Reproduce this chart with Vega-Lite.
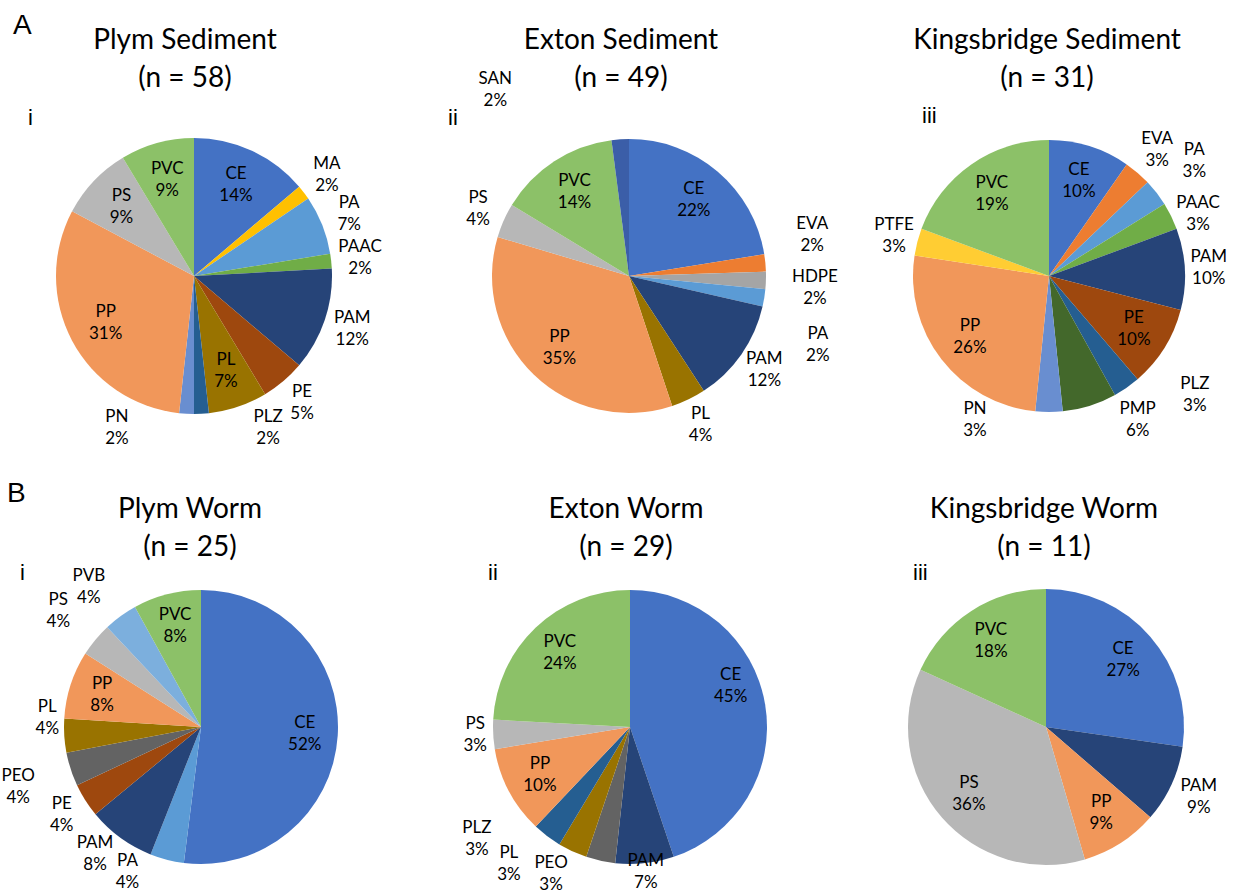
{
  "$schema": "https://vega.github.io/schema/vega-lite/v6.json",
  "background": "white",
  "padding": {"left": 0, "top": 12, "right": 0, "bottom": 0},
  "spacing": -6,
  "config": {
    "view": {"stroke": null},
    "text": {"font": "Lato", "fontSize": 17, "lineHeight": 22, "lineBreak": "\n", "color": "#000000", "baseline": "middle", "align": "center", "dy": -11},
    "arc": {"stroke": null},
    "title": {"font": "Lato", "fontWeight": "normal", "color": "#000000", "fontSize": 28, "lineHeight": 38, "baseline": "alphabetic", "offset": 0}
  },
  "data": {
    "values": [
      {"panel": "Plym Sediment", "polymer": "CE", "count": 8, "label": "CE\n14%"},
      {"panel": "Plym Sediment", "polymer": "MA", "count": 1, "label": "MA\n2%"},
      {"panel": "Plym Sediment", "polymer": "PA", "count": 4, "label": "PA\n7%"},
      {"panel": "Plym Sediment", "polymer": "PAAC", "count": 1, "label": "PAAC\n2%"},
      {"panel": "Plym Sediment", "polymer": "PAM", "count": 7, "label": "PAM\n12%"},
      {"panel": "Plym Sediment", "polymer": "PE", "count": 3, "label": "PE\n5%"},
      {"panel": "Plym Sediment", "polymer": "PL", "count": 4, "label": "PL\n7%"},
      {"panel": "Plym Sediment", "polymer": "PLZ", "count": 1, "label": "PLZ\n2%"},
      {"panel": "Plym Sediment", "polymer": "PN", "count": 1, "label": "PN\n2%"},
      {"panel": "Plym Sediment", "polymer": "PP", "count": 18, "label": "PP\n31%"},
      {"panel": "Plym Sediment", "polymer": "PS", "count": 5, "label": "PS\n9%"},
      {"panel": "Plym Sediment", "polymer": "PVC", "count": 5, "label": "PVC\n9%"},
      {"panel": "Exton Sediment", "polymer": "CE", "count": 11, "label": "CE\n22%"},
      {"panel": "Exton Sediment", "polymer": "EVA", "count": 1, "label": "EVA\n2%"},
      {"panel": "Exton Sediment", "polymer": "HDPE", "count": 1, "label": "HDPE\n2%"},
      {"panel": "Exton Sediment", "polymer": "PA", "count": 1, "label": "PA\n2%"},
      {"panel": "Exton Sediment", "polymer": "PAM", "count": 6, "label": "PAM\n12%"},
      {"panel": "Exton Sediment", "polymer": "PL", "count": 2, "label": "PL\n4%"},
      {"panel": "Exton Sediment", "polymer": "PP", "count": 17, "label": "PP\n35%"},
      {"panel": "Exton Sediment", "polymer": "PS", "count": 2, "label": "PS\n4%"},
      {"panel": "Exton Sediment", "polymer": "PVC", "count": 7, "label": "PVC\n14%"},
      {"panel": "Exton Sediment", "polymer": "SAN", "count": 1, "label": "SAN\n2%"},
      {"panel": "Kingsbridge Sediment", "polymer": "CE", "count": 3, "label": "CE\n10%"},
      {"panel": "Kingsbridge Sediment", "polymer": "EVA", "count": 1, "label": "EVA\n3%"},
      {"panel": "Kingsbridge Sediment", "polymer": "PA", "count": 1, "label": "PA\n3%"},
      {"panel": "Kingsbridge Sediment", "polymer": "PAAC", "count": 1, "label": "PAAC\n3%"},
      {"panel": "Kingsbridge Sediment", "polymer": "PAM", "count": 3, "label": "PAM\n10%"},
      {"panel": "Kingsbridge Sediment", "polymer": "PE", "count": 3, "label": "PE\n10%"},
      {"panel": "Kingsbridge Sediment", "polymer": "PLZ", "count": 1, "label": "PLZ\n3%"},
      {"panel": "Kingsbridge Sediment", "polymer": "PMP", "count": 2, "label": "PMP\n6%"},
      {"panel": "Kingsbridge Sediment", "polymer": "PN", "count": 1, "label": "PN\n3%"},
      {"panel": "Kingsbridge Sediment", "polymer": "PP", "count": 8, "label": "PP\n26%"},
      {"panel": "Kingsbridge Sediment", "polymer": "PTFE", "count": 1, "label": "PTFE\n3%"},
      {"panel": "Kingsbridge Sediment", "polymer": "PVC", "count": 6, "label": "PVC\n19%"},
      {"panel": "Plym Worm", "polymer": "CE", "count": 13, "label": "CE\n52%"},
      {"panel": "Plym Worm", "polymer": "PA", "count": 1, "label": "PA\n4%"},
      {"panel": "Plym Worm", "polymer": "PAM", "count": 2, "label": "PAM\n8%"},
      {"panel": "Plym Worm", "polymer": "PE", "count": 1, "label": "PE\n4%"},
      {"panel": "Plym Worm", "polymer": "PEO", "count": 1, "label": "PEO\n4%"},
      {"panel": "Plym Worm", "polymer": "PL", "count": 1, "label": "PL\n4%"},
      {"panel": "Plym Worm", "polymer": "PP", "count": 2, "label": "PP\n8%"},
      {"panel": "Plym Worm", "polymer": "PS", "count": 1, "label": "PS\n4%"},
      {"panel": "Plym Worm", "polymer": "PVB", "count": 1, "label": "PVB\n4%"},
      {"panel": "Plym Worm", "polymer": "PVC", "count": 2, "label": "PVC\n8%"},
      {"panel": "Exton Worm", "polymer": "CE", "count": 13, "label": "CE\n45%"},
      {"panel": "Exton Worm", "polymer": "PAM", "count": 2, "label": "PAM\n7%"},
      {"panel": "Exton Worm", "polymer": "PEO", "count": 1, "label": "PEO\n3%"},
      {"panel": "Exton Worm", "polymer": "PL", "count": 1, "label": "PL\n3%"},
      {"panel": "Exton Worm", "polymer": "PLZ", "count": 1, "label": "PLZ\n3%"},
      {"panel": "Exton Worm", "polymer": "PP", "count": 3, "label": "PP\n10%"},
      {"panel": "Exton Worm", "polymer": "PS", "count": 1, "label": "PS\n3%"},
      {"panel": "Exton Worm", "polymer": "PVC", "count": 7, "label": "PVC\n24%"},
      {"panel": "Kingsbridge Worm", "polymer": "CE", "count": 3, "label": "CE\n27%"},
      {"panel": "Kingsbridge Worm", "polymer": "PAM", "count": 1, "label": "PAM\n9%"},
      {"panel": "Kingsbridge Worm", "polymer": "PP", "count": 1, "label": "PP\n9%"},
      {"panel": "Kingsbridge Worm", "polymer": "PS", "count": 4, "label": "PS\n36%"},
      {"panel": "Kingsbridge Worm", "polymer": "PVC", "count": 2, "label": "PVC\n18%"}
    ]
  },
  "vconcat": [
    {
      "title": {"text": "A", "anchor": "start", "frame": "bounds", "font": "Liberation Sans", "fontSize": 28, "dx": 13, "dy": 17},
      "spacing": 0,
      "hconcat": [
        {
          "title": {"text": ["Plym Sediment", "(n = 58)"], "anchor": "middle", "frame": "bounds", "dx": -9, "dy": 31},
          "vconcat": [
            {
              "title": {"text": "i", "anchor": "start", "frame": "group", "font": "Liberation Sans", "fontSize": 22, "lineHeight": 22, "dx": 28, "dy": 68},
              "width": 388, "height": 420,
              "transform": [{"filter": {"field": "panel", "equal": "Plym Sediment"}}],
              "encoding": {"theta": {"field": "count", "type": "quantitative", "stack": true}, "order": {"field": "polymer", "type": "ordinal", "sort": "ascending"}},
              "layer": [
                {"mark": {"type": "arc", "outerRadius": 138}, "encoding": {"color": {"field": "polymer", "type": "nominal", "legend": null, "scale": {"domain": ["CE","EVA","HDPE","MA","PA","PAAC","PAM","PE","PEO","PL","PLZ","PMP","PN","PP","PS","PTFE","PVB","PVC","SAN"], "range": ["#4472C4","#ED7D31","#A5A5A5","#FFC000","#5B9BD5","#70AD47","#264478","#9E480E","#636363","#997300","#255E91","#43682B","#698ED0","#F1975A","#B7B7B7","#FFCD33","#7CAFDD","#8CC168","#3B5EA8"]}}}},
                {"mark": {"type": "text", "clip": true, "radius": 100}, "encoding": {"text": {"condition": {"test": {"field": "polymer", "oneOf": ["CE","PL","PP","PS","PVC"]}, "field": "label", "type": "nominal"}, "value": ""}}},
                {"mark": {"type": "text", "clip": true, "radius": 167}, "encoding": {"text": {"condition": {"test": {"field": "polymer", "oneOf": ["MA","PA","PAAC","PAM","PE"]}, "field": "label", "type": "nominal"}, "value": ""}}},
                {"mark": {"type": "text", "clip": true, "radius": 167, "dx": 65, "dy": -26}, "encoding": {"text": {"condition": {"test": {"field": "polymer", "equal": "PLZ"}, "field": "label", "type": "nominal"}, "value": ""}}},
                {"mark": {"type": "text", "clip": true, "radius": 167, "dx": -68, "dy": -26}, "encoding": {"text": {"condition": {"test": {"field": "polymer", "equal": "PN"}, "field": "label", "type": "nominal"}, "value": ""}}}
              ]
            }
          ]
        },
        {
          "title": {"text": ["Exton Sediment", "(n = 49)"], "anchor": "middle", "frame": "bounds", "dx": -8, "dy": 31},
          "vconcat": [
            {
              "title": {"text": "ii", "anchor": "start", "frame": "group", "font": "Liberation Sans", "fontSize": 22, "lineHeight": 22, "dx": 60, "dy": 68},
              "width": 482, "height": 420,
              "transform": [{"filter": {"field": "panel", "equal": "Exton Sediment"}}],
              "encoding": {"theta": {"field": "count", "type": "quantitative", "stack": true}, "order": {"field": "polymer", "type": "ordinal", "sort": "ascending"}},
              "layer": [
                {"mark": {"type": "arc", "outerRadius": 137}, "encoding": {"color": {"field": "polymer", "type": "nominal", "legend": null, "scale": {"domain": ["CE","EVA","HDPE","MA","PA","PAAC","PAM","PE","PEO","PL","PLZ","PMP","PN","PP","PS","PTFE","PVB","PVC","SAN"], "range": ["#4472C4","#ED7D31","#A5A5A5","#FFC000","#5B9BD5","#70AD47","#264478","#9E480E","#636363","#997300","#255E91","#43682B","#698ED0","#F1975A","#B7B7B7","#FFCD33","#7CAFDD","#8CC168","#3B5EA8"]}}}},
                {"mark": {"type": "text", "clip": true, "radius": 100}, "encoding": {"text": {"condition": {"test": {"field": "polymer", "oneOf": ["CE","PP","PVC"]}, "field": "label", "type": "nominal"}, "value": ""}}},
                {"mark": {"type": "text", "clip": true, "radius": 165}, "encoding": {"text": {"condition": {"test": {"field": "polymer", "oneOf": ["PAM","PL","PS"]}, "field": "label", "type": "nominal"}, "value": ""}}},
                {"mark": {"type": "text", "clip": true, "radius": 167, "dx": 17, "dy": -36}, "encoding": {"text": {"condition": {"test": {"field": "polymer", "equal": "EVA"}, "field": "label", "type": "nominal"}, "value": ""}}},
                {"mark": {"type": "text", "clip": true, "radius": 167, "dx": 19, "dy": -4}, "encoding": {"text": {"condition": {"test": {"field": "polymer", "equal": "HDPE"}, "field": "label", "type": "nominal"}, "value": ""}}},
                {"mark": {"type": "text", "clip": true, "radius": 167, "dx": 24, "dy": 31}, "encoding": {"text": {"condition": {"test": {"field": "polymer", "equal": "PA"}, "field": "label", "type": "nominal"}, "value": ""}}},
                {"mark": {"type": "text", "clip": true, "radius": 167, "dx": -123, "dy": -30}, "encoding": {"text": {"condition": {"test": {"field": "polymer", "equal": "SAN"}, "field": "label", "type": "nominal"}, "value": ""}}}
              ]
            }
          ]
        },
        {
          "title": {"text": ["Kingsbridge Sediment", "(n = 31)"], "anchor": "middle", "frame": "bounds", "dx": -2, "dy": 31},
          "vconcat": [
            {
              "title": {"text": "iii", "anchor": "start", "frame": "group", "font": "Liberation Sans", "fontSize": 22, "lineHeight": 22, "dx": 52, "dy": 66},
              "width": 358, "height": 420,
              "transform": [{"filter": {"field": "panel", "equal": "Kingsbridge Sediment"}}],
              "encoding": {"theta": {"field": "count", "type": "quantitative", "stack": true}, "order": {"field": "polymer", "type": "ordinal", "sort": "ascending"}},
              "layer": [
                {"mark": {"type": "arc", "outerRadius": 136}, "encoding": {"color": {"field": "polymer", "type": "nominal", "legend": null, "scale": {"domain": ["CE","EVA","HDPE","MA","PA","PAAC","PAM","PE","PEO","PL","PLZ","PMP","PN","PP","PS","PTFE","PVB","PVC","SAN"], "range": ["#4472C4","#ED7D31","#A5A5A5","#FFC000","#5B9BD5","#70AD47","#264478","#9E480E","#636363","#997300","#255E91","#43682B","#698ED0","#F1975A","#B7B7B7","#FFCD33","#7CAFDD","#8CC168","#3B5EA8"]}}}},
                {"mark": {"type": "text", "clip": true, "radius": 100}, "encoding": {"text": {"condition": {"test": {"field": "polymer", "oneOf": ["CE","PE","PP","PVC"]}, "field": "label", "type": "nominal"}, "value": ""}}},
                {"mark": {"type": "text", "clip": true, "radius": 166}, "encoding": {"text": {"condition": {"test": {"field": "polymer", "equal": "EVA"}, "field": "label", "type": "nominal"}, "value": ""}}},
                {"mark": {"type": "text", "clip": true, "radius": 160}, "encoding": {"text": {"condition": {"test": {"field": "polymer", "oneOf": ["PAM","PTFE"]}, "field": "label", "type": "nominal"}, "value": ""}}},
                {"mark": {"type": "text", "clip": true, "radius": 166, "dy": 0}, "encoding": {"text": {"condition": {"test": {"field": "polymer", "equal": "PAAC"}, "field": "label", "type": "nominal"}, "value": ""}}},
                {"mark": {"type": "text", "clip": true, "radius": 166, "dx": 14, "dy": -24}, "encoding": {"text": {"condition": {"test": {"field": "polymer", "equal": "PA"}, "field": "label", "type": "nominal"}, "value": ""}}},
                {"mark": {"type": "text", "clip": true, "radius": 166, "dx": 51, "dy": -28}, "encoding": {"text": {"condition": {"test": {"field": "polymer", "equal": "PLZ"}, "field": "label", "type": "nominal"}, "value": ""}}},
                {"mark": {"type": "text", "clip": true, "radius": 166, "dx": 39, "dy": -25}, "encoding": {"text": {"condition": {"test": {"field": "polymer", "equal": "PMP"}, "field": "label", "type": "nominal"}, "value": ""}}},
                {"mark": {"type": "text", "clip": true, "radius": 166, "dx": -74, "dy": -33}, "encoding": {"text": {"condition": {"test": {"field": "polymer", "equal": "PN"}, "field": "label", "type": "nominal"}, "value": ""}}}
              ]
            }
          ]
        }
      ]
    },
    {
      "title": {"text": "B", "anchor": "start", "frame": "bounds", "font": "Liberation Sans", "fontSize": 28, "dx": 7, "dy": 16},
      "spacing": 0,
      "hconcat": [
        {
          "title": {"text": ["Plym Worm", "(n = 25)"], "anchor": "middle", "frame": "bounds", "dx": -11, "dy": 14},
          "vconcat": [
            {
              "title": {"text": "i", "anchor": "start", "frame": "group", "font": "Liberation Sans", "fontSize": 22, "lineHeight": 22, "dx": 20, "dy": 37},
              "width": 402, "height": 350,
              "transform": [{"filter": {"field": "panel", "equal": "Plym Worm"}}],
              "encoding": {"theta": {"field": "count", "type": "quantitative", "stack": true}, "order": {"field": "polymer", "type": "ordinal", "sort": "ascending"}},
              "layer": [
                {"mark": {"type": "arc", "outerRadius": 137}, "encoding": {"color": {"field": "polymer", "type": "nominal", "legend": null, "scale": {"domain": ["CE","EVA","HDPE","MA","PA","PAAC","PAM","PE","PEO","PL","PLZ","PMP","PN","PP","PS","PTFE","PVB","PVC","SAN"], "range": ["#4472C4","#ED7D31","#A5A5A5","#FFC000","#5B9BD5","#70AD47","#264478","#9E480E","#636363","#997300","#255E91","#43682B","#698ED0","#F1975A","#B7B7B7","#FFCD33","#7CAFDD","#8CC168","#3B5EA8"]}}}},
                {"mark": {"type": "text", "clip": true, "radius": 104}, "encoding": {"text": {"condition": {"test": {"field": "polymer", "oneOf": ["CE","PP","PVC"]}, "field": "label", "type": "nominal"}, "value": ""}}},
                {"mark": {"type": "text", "clip": true, "radius": 165}, "encoding": {"text": {"condition": {"test": {"field": "polymer", "equal": "PE"}, "field": "label", "type": "nominal"}, "value": ""}}},
                {"mark": {"type": "text", "clip": true, "radius": 165, "dx": -9, "dy": -17}, "encoding": {"text": {"condition": {"test": {"field": "polymer", "equal": "PAM"}, "field": "label", "type": "nominal"}, "value": ""}}},
                {"mark": {"type": "text", "clip": true, "radius": 154, "dy": -30}, "encoding": {"text": {"condition": {"test": {"field": "polymer", "equal": "PL"}, "field": "label", "type": "nominal"}, "value": ""}}},
                {"mark": {"type": "text", "clip": true, "radius": 167, "dx": -32, "dy": -28}, "encoding": {"text": {"condition": {"test": {"field": "polymer", "equal": "PA"}, "field": "label", "type": "nominal"}, "value": ""}}},
                {"mark": {"type": "text", "clip": true, "radius": 167, "dx": -24, "dy": -3}, "encoding": {"text": {"condition": {"test": {"field": "polymer", "equal": "PEO"}, "field": "label", "type": "nominal"}, "value": ""}}},
                {"mark": {"type": "text", "clip": true, "radius": 167, "dx": -14, "dy": -21}, "encoding": {"text": {"condition": {"test": {"field": "polymer", "equal": "PS"}, "field": "label", "type": "nominal"}, "value": ""}}},
                {"mark": {"type": "text", "clip": true, "radius": 167, "dx": -14, "dy": -16}, "encoding": {"text": {"condition": {"test": {"field": "polymer", "equal": "PVB"}, "field": "label", "type": "nominal"}, "value": ""}}}
              ]
            }
          ]
        },
        {
          "title": {"text": ["Exton Worm", "(n = 29)"], "anchor": "middle", "frame": "bounds", "dx": -4, "dy": 14},
          "vconcat": [
            {
              "title": {"text": "ii", "anchor": "start", "frame": "group", "font": "Liberation Sans", "fontSize": 22, "lineHeight": 22, "dx": 86, "dy": 37},
              "width": 456, "height": 350,
              "transform": [{"filter": {"field": "panel", "equal": "Exton Worm"}}],
              "encoding": {"theta": {"field": "count", "type": "quantitative", "stack": true}, "order": {"field": "polymer", "type": "ordinal", "sort": "ascending"}},
              "layer": [
                {"mark": {"type": "arc", "outerRadius": 137}, "encoding": {"color": {"field": "polymer", "type": "nominal", "legend": null, "scale": {"domain": ["CE","EVA","HDPE","MA","PA","PAAC","PAM","PE","PEO","PL","PLZ","PMP","PN","PP","PS","PTFE","PVB","PVC","SAN"], "range": ["#4472C4","#ED7D31","#A5A5A5","#FFC000","#5B9BD5","#70AD47","#264478","#9E480E","#636363","#997300","#255E91","#43682B","#698ED0","#F1975A","#B7B7B7","#FFCD33","#7CAFDD","#8CC168","#3B5EA8"]}}}},
                {"mark": {"type": "text", "clip": true, "radius": 102}, "encoding": {"text": {"condition": {"test": {"field": "polymer", "oneOf": ["PP","PVC"]}, "field": "label", "type": "nominal"}, "value": ""}}},
                {"mark": {"type": "text", "clip": true, "radius": 102, "dy": -35}, "encoding": {"text": {"condition": {"test": {"field": "polymer", "equal": "CE"}, "field": "label", "type": "nominal"}, "value": ""}}},
                {"mark": {"type": "text", "clip": true, "radius": 155}, "encoding": {"text": {"condition": {"test": {"field": "polymer", "equal": "PS"}, "field": "label", "type": "nominal"}, "value": ""}}},
                {"mark": {"type": "text", "clip": true, "radius": 146}, "encoding": {"text": {"condition": {"test": {"field": "polymer", "equal": "PAM"}, "field": "label", "type": "nominal"}, "value": ""}}},
                {"mark": {"type": "text", "clip": true, "radius": 167, "dx": -43, "dy": -27}, "encoding": {"text": {"condition": {"test": {"field": "polymer", "equal": "PEO"}, "field": "label", "type": "nominal"}, "value": ""}}},
                {"mark": {"type": "text", "clip": true, "radius": 167, "dx": -51, "dy": -26}, "encoding": {"text": {"condition": {"test": {"field": "polymer", "equal": "PL"}, "field": "label", "type": "nominal"}, "value": ""}}},
                {"mark": {"type": "text", "clip": true, "radius": 167, "dx": -52, "dy": -32}, "encoding": {"text": {"condition": {"test": {"field": "polymer", "equal": "PLZ"}, "field": "label", "type": "nominal"}, "value": ""}}}
              ]
            }
          ]
        },
        {
          "title": {"text": ["Kingsbridge Worm", "(n = 11)"], "anchor": "middle", "frame": "bounds", "dx": -2, "dy": 14},
          "vconcat": [
            {
              "title": {"text": "iii", "anchor": "start", "frame": "group", "font": "Liberation Sans", "fontSize": 22, "lineHeight": 22, "dx": 55, "dy": 37},
              "width": 376, "height": 350,
              "transform": [{"filter": {"field": "panel", "equal": "Kingsbridge Worm"}}],
              "encoding": {"theta": {"field": "count", "type": "quantitative", "stack": true}, "order": {"field": "polymer", "type": "ordinal", "sort": "ascending"}},
              "layer": [
                {"mark": {"type": "arc", "outerRadius": 138}, "encoding": {"color": {"field": "polymer", "type": "nominal", "legend": null, "scale": {"domain": ["CE","EVA","HDPE","MA","PA","PAAC","PAM","PE","PEO","PL","PLZ","PMP","PN","PP","PS","PTFE","PVB","PVC","SAN"], "range": ["#4472C4","#ED7D31","#A5A5A5","#FFC000","#5B9BD5","#70AD47","#264478","#9E480E","#636363","#997300","#255E91","#43682B","#698ED0","#F1975A","#B7B7B7","#FFCD33","#7CAFDD","#8CC168","#3B5EA8"]}}}},
                {"mark": {"type": "text", "clip": true, "radius": 102}, "encoding": {"text": {"condition": {"test": {"field": "polymer", "oneOf": ["CE","PP","PS","PVC"]}, "field": "label", "type": "nominal"}, "value": ""}}},
                {"mark": {"type": "text", "clip": true, "radius": 168}, "encoding": {"text": {"condition": {"test": {"field": "polymer", "equal": "PAM"}, "field": "label", "type": "nominal"}, "value": ""}}}
              ]
            }
          ]
        }
      ]
    }
  ]
}
